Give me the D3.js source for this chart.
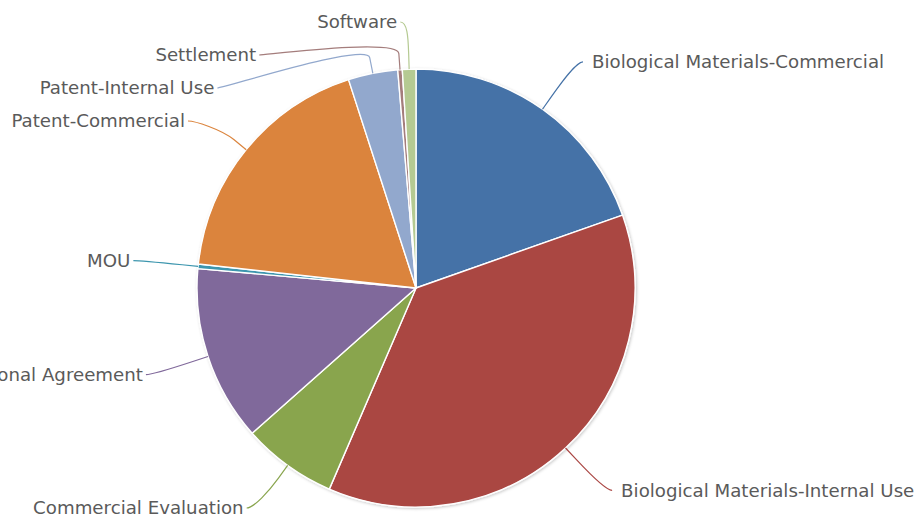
<!DOCTYPE html>
<html>
<head>
<meta charset="utf-8">
<script src="https://cdn.jsdelivr.net/npm/d3@7"></script>
<style>
    body { margin: 0; background: #fff; }
    svg { display: block; }
</style>
</head>
<body>
<div id="chart"></div>
<script>
var categories = ["Biological Materials-Commercial", "Biological Materials-Internal Use",
    "Commercial Evaluation", "Inter-Institutional Agreement", "MOU", "Patent-Commercial",
    "Patent-Internal Use", "Settlement", "Software"];
var values = [59, 111, 21, 39, 1, 55, 11, 1, 3];
var colors = ["#4572A7", "#AA4643", "#89A54E", "#80699B", "#3D96AE",
    "#DB843D", "#92A8CD", "#A47D7C", "#B5CA92"];

var width = 921,
    height = 520,
    cx = 416,
    cy = 288,
    radius = 219,
    labelDistance = 58,
    connectorOffset = 16,
    hook = 7,
    padLeft = 10,
    padRight = 16,
    slotHeight = 33;

var svg = d3.select("#chart").append("svg")
    .attr("width", width)
    .attr("height", height);

var defs = svg.append("defs");
var shadow = defs.append("filter")
    .attr("id", "pieShadow")
    .attr("x", "-10%").attr("y", "-10%")
    .attr("width", "120%").attr("height", "120%");
shadow.append("feDropShadow")
    .attr("dx", 1).attr("dy", 1)
    .attr("stdDeviation", 1.8)
    .attr("flood-color", "#000")
    .attr("flood-opacity", 0.22);

var pie = d3.pie()
    .sort(null)
    .value(function(d) { return d; });

var arcs = pie(values);

var arc = d3.arc()
    .innerRadius(0)
    .outerRadius(radius);

var g = svg.append("g").attr("transform", "translate(" + cx + "," + cy + ")");

g.append("g")
    .attr("filter", "url(#pieShadow)")
    .selectAll("path")
    .data(arcs)
    .enter().append("path")
    .attr("d", arc)
    .attr("fill", function(d, i) { return colors[i]; })
    .attr("stroke", "#fff")
    .attr("stroke-width", 1.4)
    .attr("stroke-linejoin", "round");

// label layout, roughly the way highcharts does it
var R = radius + labelDistance;

function polar(a, r) {
    return [cx + r * Math.sin(a), cy - r * Math.cos(a)];
}

var labels = arcs.map(function(d, i) {
    var a = (d.startAngle + d.endAngle) / 2;
    var nat = polar(a, R);
    return {
        i: i,
        angle: a,
        left: a > Math.PI,
        naturalX: nat[0],
        naturalY: nat[1],
        edge: polar(a, radius),
        brk: polar(a, radius + connectorOffset)
    };
});

[true, false].forEach(function(side) {
    var list = labels.filter(function(l) { return l.left === side; })
        .sort(function(a, b) { return a.naturalY - b.naturalY; });
    var top = 22, bottom = height - 12;
    list.forEach(function(l, k) {
        var y = Math.max(l.naturalY, top);
        if (k > 0) y = Math.max(y, list[k - 1].y + slotHeight);
        l.y = y;
    });
    for (var k = list.length - 1; k >= 0; k--) {
        var lim = (k === list.length - 1) ? bottom : list[k + 1].y - slotHeight;
        if (list[k].y > lim) list[k].y = lim;
    }
    list.forEach(function(l, k) {
        if (k === 0 || k === list.length - 1) {
            l.x = l.naturalX;
        } else {
            var dy = l.y - cy;
            var dx = Math.sqrt(Math.max(0, R * R - dy * dy));
            l.x = cx + (side ? -dx : dx);
        }
    });
});

var labelG = svg.append("g");

labelG.selectAll("path")
    .data(labels)
    .enter().append("path")
    .attr("fill", "none")
    .attr("stroke", function(d) { return colors[d.i]; })
    .attr("stroke-width", 1.2)
    .attr("d", function(d) {
        var sx = d.x + (d.left ? -hook : hook);
        return "M" + sx + "," + d.y +
            " C" + d.x + "," + d.y + " " +
            (2 * d.brk[0] - d.edge[0]) + "," + (2 * d.brk[1] - d.edge[1]) + " " +
            d.brk[0] + "," + d.brk[1] +
            " L" + d.edge[0] + "," + d.edge[1];
    });

labelG.selectAll("text")
    .data(labels)
    .enter().append("text")
    .attr("x", function(d) { return d.x + (d.left ? -padLeft : padRight); })
    .attr("y", function(d) { return d.y; })
    .attr("dy", "0.35em")
    .attr("text-anchor", function(d) { return d.left ? "end" : "start"; })
    .attr("font-family", "'DejaVu Sans', sans-serif")
    .attr("font-size", 18.2)
    .attr("fill", "#5a5a5a")
    .text(function(d) { return categories[d.i]; });
</script>
</body>
</html>
